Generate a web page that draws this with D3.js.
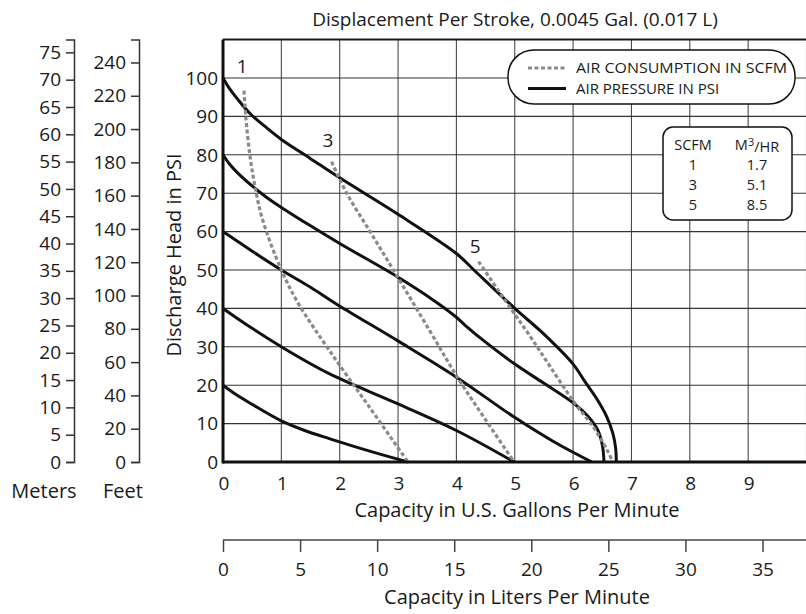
<!DOCTYPE html>
<html>
<head>
<meta charset="utf-8">
<script src="https://cdnjs.cloudflare.com/ajax/libs/d3/7.8.5/d3.min.js"></script>
<style>
  body { margin: 0; background: #fff; }
  text { font-family: "Open Sans", "Noto Sans", sans-serif; fill: #1a1a1a; }
</style>
</head>
<body>
<script>
// chart values
var gpmTicks   = [0, 1, 2, 3, 4, 5, 6, 7, 8, 9];
var psiTicks   = [0, 10, 20, 30, 40, 50, 60, 70, 80, 90, 100];
var meterTicks = [0, 5, 10, 15, 20, 25, 30, 35, 40, 45, 50, 55, 60, 65, 70, 75];
var feetTicks  = [0, 20, 40, 60, 80, 100, 120, 140, 160, 180, 200, 220, 240];
var literTicks = [0, 5, 10, 15, 20, 25, 30, 35];

// air pressure curves, [gpm, psi]
var psi100 = [[0,100],[0.1,97.5],[0.25,94.5],[0.48,90.5],[0.75,87],[1,84],[1.5,79],[2.0,74],[2.98,64.7],[4.0,54.3],[4.3,50],[5.0,40],[5.5,33.3],[6.0,25.5],[6.2,21],[6.4,16.6],[6.57,12],[6.68,7.5],[6.73,3.5],[6.74,0]];
var psi80  = [[0,80],[0.1,77.8],[0.25,75.3],[0.53,71.5],[0.75,68.9],[1,66.3],[1.5,61.5],[2.0,56.9],[2.98,48.3],[3.6,42.2],[4.0,37.7],[4.15,35.6],[4.5,31.2],[5.0,25.5],[5.5,20.5],[6.0,15.4],[6.25,12],[6.42,8.4],[6.5,4.5],[6.53,0]];
var psi60  = [[0,60],[0.47,55.2],[1,50],[1.5,45.5],[1.99,40.7],[2.99,31.6],[4.0,22.1],[4.99,11.7],[5.7,5],[6.32,0]];
var psi40  = [[0,40],[0.5,34.8],[1,30],[1.82,23],[2.99,15.2],[4.0,8.2],[4.99,0]];
var psi20  = [[0,20],[0.25,17.3],[0.5,15],[1,10.7],[1.4,8.2],[1.82,6.1],[2.5,2.9],[3.17,0]];
var pressureCurves = [psi100, psi80, psi60, psi40, psi20];

// air consumption curves, [gpm, psi]
var scfm1 = [[0.36,96.7],[0.39,90],[0.46,80],[0.55,71.6],[0.68,63],[1,50],[1.29,41.3],[1.82,29.1],[2.5,14.5],[3.17,0]];
var scfm3 = [[1.86,78.2],[2.12,70],[2.52,60],[2.92,50],[3.55,34],[4.02,22],[4.5,11],[4.99,0]];
var scfm5 = [[4.38,52.2],[4.93,40],[5.27,32.6],[5.6,25],[6.02,15.5],[6.36,8.8],[6.58,3.2],[6.68,0]];
var airCurves = [scfm1, scfm3, scfm5];
var airLabels = ["1", "3", "5"];
var airLabelAt = [[0.33, 103.1], [1.8, 83.9], [4.32, 56.2]];

var scfmCol = ["1", "3", "5"];
var m3hrCol = ["1.7", "5.1", "8.5"];

var width = 806, height = 614;

var svg = d3.select("body")
  .append("svg")
  .attr("width", width)
  .attr("height", height);

var x = d3.scaleLinear().domain([0, 10]).range([223, 806.5]);
var y = d3.scaleLinear().domain([0, 110]).range([462, 39.6]);
var xl = d3.scaleLinear().domain([0, 10 * 3.7854]).range([223, 806.5]);
var yMeters = d3.scaleLinear().domain([0, 110 * 0.70307]).range([462, 39.6]);
var yFeet = d3.scaleLinear().domain([0, 110 * 2.3067]).range([462, 39.6]);

// grid
var grid = svg.append("g");
grid.selectAll(".vg")
  .data(d3.range(1, 11))
  .enter().append("line")
    .attr("x1", d => x(d)).attr("x2", d => x(d))
    .attr("y1", y(0)).attr("y2", y(110))
    .attr("stroke", "#4a4a4a").attr("stroke-width", 1.1);
grid.selectAll(".hg")
  .data(d3.range(10, 110, 10))
  .enter().append("line")
    .attr("x1", x(0)).attr("x2", x(10))
    .attr("y1", d => y(d)).attr("y2", d => y(d))
    .attr("stroke", "#333").attr("stroke-width", 1.1);
grid.append("line")
  .attr("x1", x(0)).attr("x2", x(10))
  .attr("y1", y(110)).attr("y2", y(110))
  .attr("stroke", "#1a1a1a").attr("stroke-width", 2);

// curves
var line = d3.line()
  .x(d => x(d[0]))
  .y(d => y(d[1]))
  .curve(d3.curveCatmullRom.alpha(0.5));

svg.selectAll(".pcurve")
  .data(pressureCurves)
  .enter().append("path")
    .attr("d", line)
    .attr("fill", "none")
    .attr("stroke", "#111")
    .attr("stroke-width", 3);

svg.selectAll(".acurve")
  .data(airCurves)
  .enter().append("path")
    .attr("d", line)
    .attr("fill", "none")
    .attr("stroke", "#8a8a8a")
    .attr("stroke-width", 3.2)
    .attr("stroke-dasharray", "4,2.5");

svg.selectAll(".alabel")
  .data(airLabelAt)
  .enter().append("text")
    .attr("x", d => x(d[0]))
    .attr("y", d => y(d[1]))
    .attr("dy", "0.36em")
    .attr("text-anchor", "middle")
    .attr("font-size", 19)
    .text((d, i) => airLabels[i]);

// frame axes
svg.append("line")
  .attr("x1", x(0)).attr("x2", x(0))
  .attr("y1", y(0) + 1.5).attr("y2", y(110))
  .attr("stroke", "#111").attr("stroke-width", 3);
svg.append("line")
  .attr("x1", x(0)).attr("x2", x(10))
  .attr("y1", y(0)).attr("y2", y(0))
  .attr("stroke", "#111").attr("stroke-width", 3);

// psi labels
svg.selectAll(".psil")
  .data(psiTicks)
  .enter().append("text")
    .attr("x", 218)
    .attr("y", d => y(d))
    .attr("dy", "0.36em")
    .attr("text-anchor", "end")
    .attr("font-size", 19)
    .text(d => d);

svg.append("text")
  .attr("transform", "translate(181,255) rotate(-90)")
  .attr("text-anchor", "middle")
  .attr("font-size", 20)
  .text("Discharge Head in PSI");

// gpm labels
svg.selectAll(".gpml")
  .data(gpmTicks)
  .enter().append("text")
    .attr("x", d => x(d) + 1)
    .attr("y", 483)
    .attr("dy", "0.36em")
    .attr("text-anchor", "middle")
    .attr("font-size", 19)
    .text(d => d);

svg.append("text")
  .attr("x", 517).attr("y", 510).attr("dy", "0.36em")
  .attr("text-anchor", "middle")
  .attr("font-size", 20)
  .text("Capacity in U.S. Gallons Per Minute");

// liters axis
var lAxis = svg.append("g")
  .attr("transform", "translate(0,540)")
  .call(d3.axisBottom(xl).tickValues(literTicks).tickSize(12).tickSizeOuter(0).tickPadding(11));
lAxis.select(".domain").attr("stroke", "#444").attr("stroke-width", 1.5);
lAxis.selectAll(".tick line").attr("stroke", "#444").attr("stroke-width", 1.5);
lAxis.selectAll("text").attr("font-size", 19).attr("font-family", null).attr("fill", "#1a1a1a");
lAxis.select(".domain").attr("d", "M223,0H806");

svg.append("text")
  .attr("x", 517).attr("y", 597).attr("dy", "0.36em")
  .attr("text-anchor", "middle")
  .attr("font-size", 20)
  .text("Capacity in Liters Per Minute");

// meters and feet axes
function sideAxis(scale, ticks, xpos) {
  var g = svg.append("g")
    .attr("transform", "translate(" + xpos + ",0)")
    .call(d3.axisLeft(scale).tickValues(ticks).tickSize(8).tickSizeOuter(8).tickPadding(5));
  g.select(".domain").attr("stroke", "#333").attr("stroke-width", 1.5);
  g.selectAll(".tick line").attr("stroke", "#333").attr("stroke-width", 1.5);
  g.selectAll("text").attr("font-size", 19).attr("font-family", null).attr("fill", "#1a1a1a");
  return g;
}
sideAxis(yMeters, meterTicks, 74);
sideAxis(yFeet, feetTicks, 139);

svg.append("text")
  .attr("x", 44).attr("y", 491).attr("dy", "0.36em")
  .attr("text-anchor", "middle").attr("font-size", 20)
  .text("Meters");
svg.append("text")
  .attr("x", 123).attr("y", 491).attr("dy", "0.36em")
  .attr("text-anchor", "middle").attr("font-size", 20)
  .text("Feet");

// title
svg.append("text")
  .attr("x", 515).attr("y", 19).attr("dy", "0.36em")
  .attr("text-anchor", "middle")
  .attr("font-size", 19)
  .text("Displacement Per Stroke, 0.0045 Gal. (0.017 L)");

// legend
var leg = svg.append("g");
leg.append("rect")
  .attr("x", 508).attr("y", 50)
  .attr("width", 287).attr("height", 54)
  .attr("rx", 26).attr("ry", 26)
  .attr("fill", "#fff").attr("stroke", "#111").attr("stroke-width", 1.5);
leg.append("line")
  .attr("x1", 528).attr("x2", 566).attr("y1", 68).attr("y2", 68)
  .attr("stroke", "#8a8a8a").attr("stroke-width", 3).attr("stroke-dasharray", "4,2.5");
leg.append("line")
  .attr("x1", 528).attr("x2", 566).attr("y1", 88.5).attr("y2", 88.5)
  .attr("stroke", "#111").attr("stroke-width", 3);
leg.append("text")
  .attr("x", 576).attr("y", 68).attr("dy", "0.36em")
  .attr("font-size", 15)
  .attr("textLength", 211).attr("lengthAdjust", "spacingAndGlyphs")
  .text("AIR CONSUMPTION IN SCFM");
leg.append("text")
  .attr("x", 576).attr("y", 88.5).attr("dy", "0.36em")
  .attr("font-size", 15)
  .text("AIR PRESSURE IN PSI");

// scfm table
var tbl = svg.append("g");
tbl.append("rect")
  .attr("x", 663).attr("y", 127)
  .attr("width", 129).attr("height", 93)
  .attr("rx", 10).attr("ry", 10)
  .attr("fill", "#fff").attr("stroke", "#111").attr("stroke-width", 1.5);
tbl.append("text")
  .attr("x", 693).attr("y", 145).attr("dy", "0.36em")
  .attr("text-anchor", "middle").attr("font-size", 14.5)
  .text("SCFM");
var hdr = tbl.append("text")
  .attr("x", 757).attr("y", 145).attr("dy", "0.36em")
  .attr("text-anchor", "middle").attr("font-size", 14.5);
hdr.append("tspan").text("M");
hdr.append("tspan").attr("dy", "-0.4em").attr("font-size", 11).text("3");
hdr.append("tspan").attr("dy", "0.4em").text("/HR");
tbl.selectAll(".c1")
  .data(scfmCol)
  .enter().append("text")
    .attr("x", 693).attr("y", (d, i) => 165 + i * 20).attr("dy", "0.36em")
    .attr("text-anchor", "middle").attr("font-size", 14.5)
    .text(d => d);
tbl.selectAll(".c2")
  .data(m3hrCol)
  .enter().append("text")
    .attr("x", 757).attr("y", (d, i) => 165 + i * 20).attr("dy", "0.36em")
    .attr("text-anchor", "middle").attr("font-size", 14.5)
    .text(d => d);
</script>
</body>
</html>
